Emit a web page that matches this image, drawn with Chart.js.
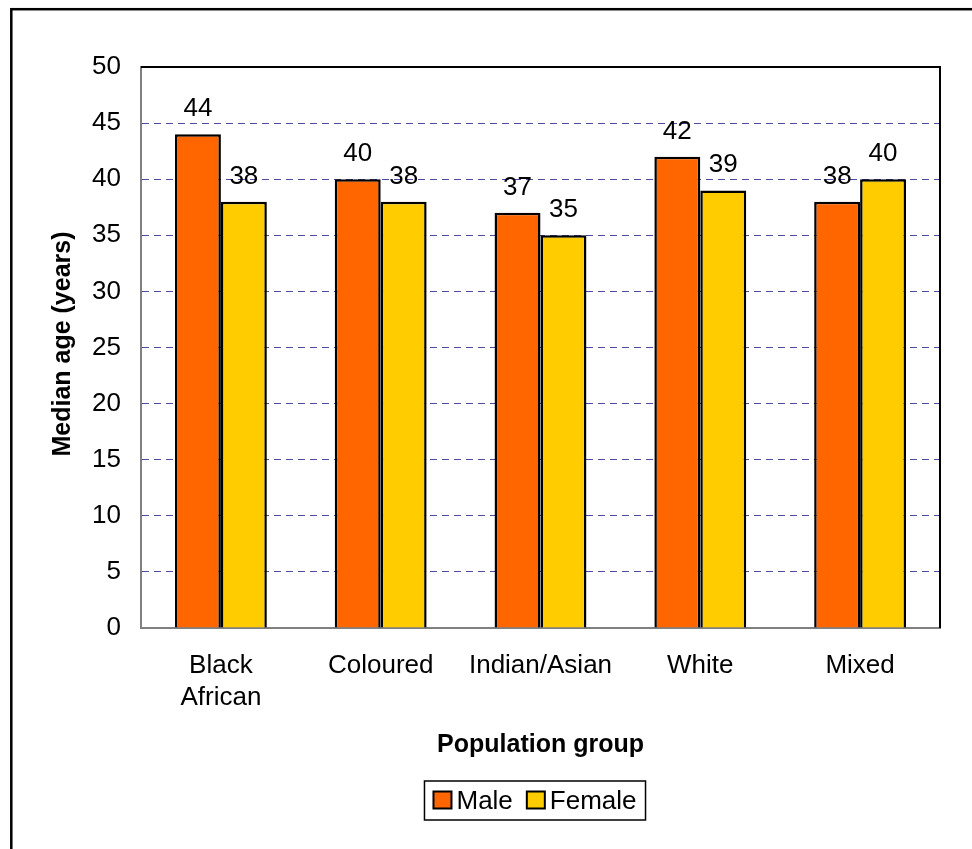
<!DOCTYPE html>
<html>
<head>
<meta charset="utf-8">
<script src="https://cdn.jsdelivr.net/npm/chart.js@4/dist/chart.umd.min.js"></script>
<style>
  html, body { margin: 0; padding: 0; background: #fff; overflow: hidden; }
  #wrap { position: absolute; left: 0; top: 0; width: 972px; height: 849px; }
</style>
</head>
<body>
<div id="wrap"><canvas id="c" width="972" height="849"></canvas></div>
<script>
// Median age by population group and sex
const groups = [['Black', 'African'], 'Coloured', 'Indian/Asian', 'White', 'Mixed'];
const maleAges = [44, 40, 37, 42, 38];
const femaleAges = [38, 38, 35, 39, 40];
const seriesNames = ['Male', 'Female'];
const seriesColors = ['#FF6600', '#FFCC00'];
const yTitle = 'Median age (years)';
const xTitle = 'Population group';

const FONT = 'Arial, "Liberation Sans", sans-serif';

// Outer frame, plot box top/right edges, axis titles, value labels and legend
const decor = {
  id: 'decor',
  beforeDraw(chart) {
    const ctx = chart.ctx;
    ctx.save();
    ctx.fillStyle = '#fff';
    ctx.fillRect(0, 0, chart.width, chart.height);
    ctx.strokeStyle = '#000';
    ctx.lineWidth = 2.5;
    ctx.strokeRect(11.3, 9.2, chart.width + 20, chart.height + 20);
    ctx.restore();
  },
  afterDatasetsDraw(chart) {
    const ctx = chart.ctx;
    const a = chart.chartArea;
    ctx.save();
    // top and right edges of the plot box
    ctx.strokeStyle = '#000';
    ctx.lineWidth = 2;
    ctx.beginPath();
    ctx.moveTo(a.left, a.top);
    ctx.lineTo(a.right, a.top);
    ctx.lineTo(a.right, a.bottom);
    ctx.stroke();

    // value labels above the bars
    ctx.fillStyle = '#000';
    ctx.font = '26px ' + FONT;
    ctx.textAlign = 'center';
    ctx.textBaseline = 'alphabetic';
    chart.data.datasets.forEach((ds, di) => {
      const meta = chart.getDatasetMeta(di);
      meta.data.forEach((bar, i) => {
        ctx.fillText(String(ds.data[i]), bar.x, bar.y - 18);
      });
    });

    // axis titles
    ctx.font = 'bold 25px ' + FONT;
    ctx.textBaseline = 'middle';
    ctx.fillText(xTitle, (a.left + a.right) / 2, 745);
    ctx.save();
    ctx.translate(63, 344);
    ctx.rotate(-Math.PI / 2);
    ctx.fillText(yTitle, 0, 0);
    ctx.restore();

    // legend
    ctx.font = '26px ' + FONT;
    const box = 18, gapBoxText = 5, gapItems = 14, padX = 9;
    const widths = seriesNames.map(n => box + gapBoxText + ctx.measureText(n).width);
    const total = widths.reduce((s, w) => s + w, 0) + gapItems * (seriesNames.length - 1) + padX * 2;
    const cx = 535, top = 781, h = 39;
    let x = cx - total / 2;
    ctx.lineWidth = 1.5;
    ctx.strokeStyle = '#000';
    ctx.strokeRect(x, top, total, h);
    x += padX;
    const midY = top + h / 2;
    seriesNames.forEach((n, i) => {
      ctx.fillStyle = seriesColors[i];
      ctx.fillRect(x, midY - box / 2, box, box - 1);
      ctx.lineWidth = 2;
      ctx.strokeRect(x, midY - box / 2, box, box - 1);
      ctx.fillStyle = '#000';
      ctx.textAlign = 'left';
      ctx.fillText(n, x + box + gapBoxText, midY + 1);
      x += widths[i] + gapItems;
    });
    ctx.restore();
  }
};

new Chart(document.getElementById('c'), {
  type: 'bar',
  data: {
    labels: groups,
    datasets: [
      { label: seriesNames[0], data: maleAges, backgroundColor: seriesColors[0], borderColor: '#000', borderWidth: 2.5 },
      { label: seriesNames[1], data: femaleAges, backgroundColor: seriesColors[1], borderColor: '#000', borderWidth: 2.5 }
    ]
  },
  options: {
    responsive: false,
    animation: false,
    devicePixelRatio: 1,
    layout: { padding: { left: 0, right: 32, top: 67, bottom: 0 } },
    datasets: { bar: { categoryPercentage: 0.575, barPercentage: 1.0 } },
    plugins: {
      legend: { display: false },
      tooltip: { enabled: false }
    },
    scales: {
      x: {
        offset: true,
        grid: { display: false, drawTicks: false },
        border: { display: true, color: '#808080', width: 2 },
        ticks: { color: '#000', font: { family: FONT, size: 26, lineHeight: 1.23 }, padding: 22, maxRotation: 0, autoSkip: false },
        afterFit(scale) { scale.height = 221; }
      },
      y: {
        min: 0,
        max: 50,
        ticks: { stepSize: 5, color: '#000', font: { family: FONT, size: 26 }, padding: 20 },
        grid: { color: '#4A4AA6', lineWidth: 1, drawTicks: false },
        border: { display: true, color: '#808080', width: 2, dash: [7, 5] },
        afterFit(scale) { scale.width = 141; }
      }
    }
  },
  plugins: [decor]
});
</script>
</body>
</html>
